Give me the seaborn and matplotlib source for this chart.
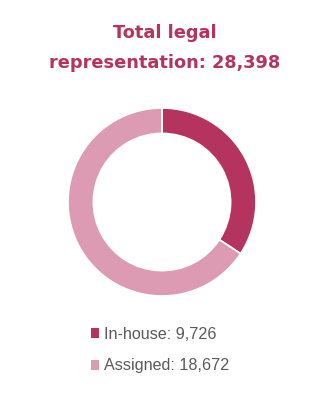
import matplotlib
matplotlib.use("Agg")
import matplotlib.pyplot as plt
from matplotlib.patches import Patch
import seaborn as sns

categories = ["In-house", "Assigned"]
values = [9726, 18672]
colors = ["#B5335F", "#DC9BB3"]
total = sum(values)

sns.set_theme(style="white")
plt.rcParams['font.family'] = ['Liberation Sans', 'DejaVu Sans']

fig = plt.figure(figsize=(3.3, 4.0), dpi=100)
ax = fig.add_axes([162/330 - 94/330, 1 - (202+94)/400, 188/330, 188/400])
ax.pie(values, colors=colors, startangle=90, counterclock=False,
       wedgeprops=dict(width=0.27, edgecolor="white", linewidth=1.2))
ax.set_aspect("equal")
ax.set_xlim(-1, 1)
ax.set_ylim(-1, 1)

fig.text(0.5, 1 - 33/400, "Total legal", ha="center", va="center",
         fontsize=12.8, fontweight="bold", color="#B5335F", family=["DejaVu Sans"])
fig.text(0.5, 1 - 63/400, f"representation: {total:,}", ha="center", va="center",
         fontsize=12.8, fontweight="bold", color="#B5335F", family=["DejaVu Sans"])

handles = [Patch(facecolor=c, edgecolor="none") for c in colors]
labels = [f"{c}: {v:,}" for c, v in zip(categories, values)]
fig.legend(handles, labels, loc="center left", bbox_to_anchor=(76/330, 1 - 350/400),
           frameon=False, fontsize=11.6, handlelength=0.55, handleheight=0.55,
           handletextpad=0.3, labelspacing=1.05, labelcolor="#595959")

fig.savefig("out.png", dpi=100, facecolor="white")
